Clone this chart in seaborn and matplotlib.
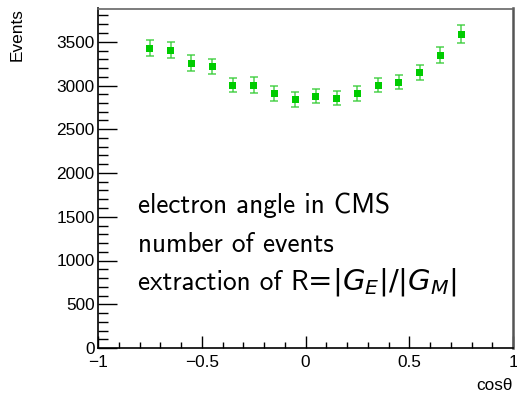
import numpy as np
import pandas as pd
import matplotlib
matplotlib.use("Agg")
import matplotlib.pyplot as plt
from matplotlib.ticker import MultipleLocator
import seaborn as sns

# Bin centres of cos(theta) and the counted events with their errors
cos_theta = [-0.75, -0.65, -0.55, -0.45, -0.35, -0.25, -0.15, -0.05,
             0.05, 0.15, 0.25, 0.35, 0.45, 0.55, 0.65, 0.75]
events = [3427, 3405, 3256, 3221, 3004, 3004, 2912, 2843,
          2878, 2855, 2912, 3004, 3038, 3153, 3347, 3588]
event_err = [95, 92, 92, 86, 84, 88, 84, 84,
             82, 82, 84, 80, 78, 86, 90, 99]

x_ticks = [-1, -0.5, 0, 0.5, 1]
x_tick_labels = ["\u22121", "\u22120.5", "0", "0.5", "1"]
y_ticks = [0, 500, 1000, 1500, 2000, 2500, 3000, 3500]

caption_lines = ["electron angle in CMS", "number of events"]
caption_last = "extraction of"
caption_ratio = "R"
caption_math = r"$\!\!=\!|G_E|/|G_M|$"

df = pd.DataFrame({"cos": cos_theta, "events": events, "err": event_err})

sns.set_theme(style="ticks")
plt.rcParams["font.family"] = ["Liberation Sans", "DejaVu Sans"]
plt.rcParams["mathtext.fontset"] = "dejavusans"
plt.rcParams["text.color"] = "black"
plt.rcParams["xtick.color"] = "black"
plt.rcParams["ytick.color"] = "black"
plt.rcParams["xtick.labelcolor"] = "black"
plt.rcParams["ytick.labelcolor"] = "black"

W, H = 517, 395
fig = plt.figure(figsize=(W / 100, H / 100), dpi=100)
left, right, top, bottom = 98, 513, 8.5, 348
ax = fig.add_axes([left / W, (H - bottom) / H, (right - left) / W, (bottom - top) / H])

green = "#00cc00"
ax.errorbar(df["cos"], df["events"], yerr=df["err"], fmt="none",
            ecolor="#33cc33", elinewidth=1.1, capsize=2.8, capthick=1.1,
            alpha=0.85, zorder=2)
sns.scatterplot(data=df, x="cos", y="events", marker="s", color=green,
                s=26, edgecolor="none", linewidth=0, ax=ax, zorder=3)

ax.set_xlim(-1, 1)
ax.set_ylim(0, 3880)
ax.set_xticks(x_ticks)
ax.set_xticklabels(x_tick_labels)
ax.set_yticks(y_ticks)
ax.xaxis.set_minor_locator(MultipleLocator(0.1))
ax.yaxis.set_minor_locator(MultipleLocator(100))

ax.tick_params(axis="x", which="major", direction="in", length=9, width=1,
               color="black", labelcolor="black", labelsize=12.4, pad=5, top=False)
ax.tick_params(axis="x", which="minor", direction="in", length=4.5, width=1,
               color="black", top=False)
ax.tick_params(axis="y", which="major", direction="in", length=13.5, width=1,
               color="black", labelcolor="black", labelsize=12.4, pad=2.5, right=False)
ax.tick_params(axis="y", which="minor", direction="in", length=7, width=1,
               color="black", right=False)

for side in ("left", "bottom"):
    ax.spines[side].set_color("black")
    ax.spines[side].set_linewidth(1.2)
ax.spines["top"].set_color("#666666")
ax.spines["top"].set_linewidth(1.2)
ax.spines["right"].set_color("#555555")
ax.spines["right"].set_linewidth(1.8)

ax.set_xlabel("")
ax.set_ylabel("")
fig.text(513 / W, 1 - 386 / H, "cos\u03b8", ha="right", va="center",
         fontsize=12.4, color="black")
fig.text(17 / W, 1 - 8 / H, "Events", ha="center", va="top", rotation=90,
         fontsize=12.4, color="black")

# Caption block inside the frame
cap_size = 19.6
cx = 138 / W
baselines = [213, 252, 290]
for line, yb in zip(caption_lines, baselines[:2]):
    fig.text(cx, 1 - yb / H, line, family="cmss10", fontsize=cap_size,
             va="baseline", ha="left", color="black")
fig.text(cx, 1 - baselines[2] / H, caption_last, family="cmss10",
         fontsize=cap_size, va="baseline", ha="left", color="black")
r_txt = fig.text(290 / W, 1 - baselines[2] / H, caption_ratio, family="cmss10",
                 fontsize=cap_size, va="baseline", ha="left", color="black")
fig.canvas.draw()
bb = r_txt.get_window_extent()
fig.text((bb.x1 + 2) / W, 1 - baselines[2] / H, caption_math, fontsize=21,
         va="baseline", ha="left", color="black")

fig.savefig("out.png", dpi=100)
